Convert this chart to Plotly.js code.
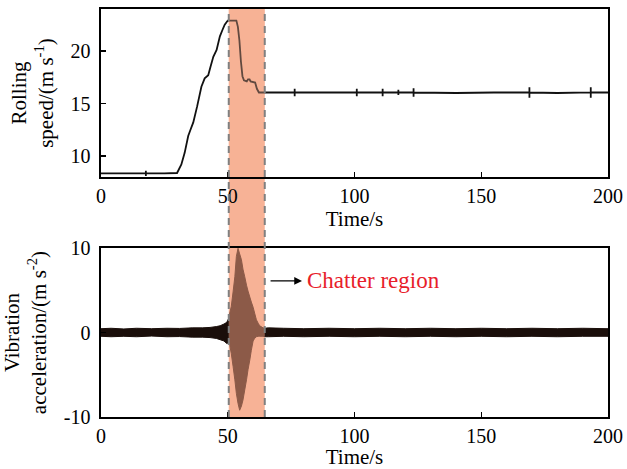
<!DOCTYPE html>
<html><head><meta charset="utf-8">
<script src="https://cdn.plot.ly/plotly-3.0.1.min.js"></script>
<style>html,body{margin:0;padding:0;background:#fff}</style>
</head><body><div id="chart" style="width:627px;height:469px"></div>
<script>
// Rolling speed (top panel); narrow spikes are drawn as base -> up -> down -> base at one time
const speedTime = [0, 10, 17.7, 17.7, 17.7, 17.7, 25, 30.0, 31.7, 33.0, 34.4, 35.3, 36.4, 37.9, 39.6, 40.9, 42.3, 43.2, 44.3, 45.6, 46.9, 47.9, 48.8, 50.0, 53.4, 54.0, 54.6, 55.2, 55.8, 56.4, 57.5, 58.0, 58.6, 59.0, 60.8, 61.5, 62.3, 70, 76.4, 76.4, 76.4, 76.4, 90, 100.9, 100.9, 100.9, 100.9, 111.1, 111.1, 111.1, 111.1, 117.3, 117.3, 117.3, 117.3, 123.3, 123.3, 123.3, 123.3, 140, 155, 169.0, 169.0, 169.0, 169.0, 180, 193.2, 193.2, 193.2, 193.2, 200];
const speedValue = [8.35, 8.35, 8.35, 8.6, 8.1, 8.35, 8.35, 8.38, 9.2, 10.3, 11.9, 12.5, 13.2, 14.7, 16.6, 17.4, 17.7, 18.5, 19.45, 20.1, 21.4, 22.0, 22.5, 22.9, 22.9, 22.3, 21.0, 19.0, 17.6, 17.2, 17.1, 17.3, 17.3, 17.1, 17.0, 16.4, 16.05, 16.05, 16.05, 16.4, 15.7, 16.05, 16.05, 16.05, 16.4, 15.7, 16.05, 16.05, 16.4, 15.7, 16.05, 16.05, 16.3, 15.8, 16.05, 16.05, 16.45, 15.65, 16.05, 16.0, 16.05, 16.05, 16.55, 15.55, 16.05, 16.0, 16.05, 16.55, 15.55, 16.05, 16.05];

// Vibration acceleration envelope (bottom panel)
const vibTime  = [0, 4, 9, 14, 20, 26, 31, 36, 40, 43, 45.5, 47, 48.5, 49.6, 50.4, 50.8, 51.4, 52.1, 52.8, 53.4, 54.06, 54.7, 55.4, 56.0, 56.7, 57.4, 58.0, 58.7, 59.3, 60.0, 60.6, 61.3, 62.0, 62.6, 63.9, 64.6, 66, 72, 80, 90, 100, 110, 120, 130, 140, 150, 160, 170, 180, 190, 200];
const vibUpper = [0.45, 0.5, 0.42, 0.5, 0.45, 0.5, 0.48, 0.55, 0.55, 0.6, 0.7, 0.8, 1.0, 1.2, 1.7, 2.3, 3.1, 4.8, 6.6, 9.0, 9.96, 9.3, 8.6, 7.5, 6.6, 5.6, 4.9, 4.2, 3.6, 3.0, 2.3, 1.5, 1.1, 0.8, 0.55, 0.5, 0.55, 0.5, 0.45, 0.5, 0.45, 0.5, 0.45, 0.5, 0.45, 0.5, 0.45, 0.5, 0.45, 0.5, 0.45];
const vibLower = [-0.45, -0.5, -0.45, -0.5, -0.42, -0.5, -0.48, -0.55, -0.55, -0.6, -0.7, -0.85, -1.0, -1.3, -1.2, -1.5, -2.5, -4.0, -5.6, -7.2, -8.4, -9.2, -8.7, -8.0, -6.8, -5.6, -4.4, -3.25, -2.1, -1.0, -0.7, -0.5, -0.45, -0.45, -0.45, -0.5, -0.5, -0.45, -0.5, -0.45, -0.5, -0.45, -0.5, -0.45, -0.5, -0.45, -0.5, -0.45, -0.5, -0.45, -0.45];

const chatterStart = 50.4, chatterEnd = 64.6;
const xTicks = [0, 50, 100, 150, 200];
const speedTicks = [10, 15, 20];
const vibTicks = [-10, 0, 10];
const vibTickText = ['-10', '0', '10'];

const FONT = 'Liberation Serif, Times New Roman, serif';
const BLACKISH = '#1a0e0a';
const BROWN = '#8c5a48';
const SALMON = '#f7b296';

// split the envelope into pieces: before, inside and after the chatter band
function envelopePiece(i0, i1) {
  const t = vibTime.slice(i0, i1 + 1), up = vibUpper.slice(i0, i1 + 1), lo = vibLower.slice(i0, i1 + 1);
  return {x: t.concat(t.slice().reverse()), y: up.concat(lo.slice().reverse())};
}
const iStart = vibTime.indexOf(chatterStart), iEnd = vibTime.indexOf(chatterEnd);
const pieces = [
  [envelopePiece(0, iStart), BLACKISH],
  [envelopePiece(iStart, iEnd), BROWN],
  [envelopePiece(iEnd, vibTime.length - 1), BLACKISH]
];

const traces = [
  {x: speedTime, y: speedValue, type: 'scatter', mode: 'lines', xaxis: 'x', yaxis: 'y',
   line: {color: '#111', width: 1.8, simplify: false}, hoverinfo: 'skip'}
].concat(pieces.map(p => ({
  x: p[0].x, y: p[0].y, type: 'scatter', mode: 'lines', xaxis: 'x2', yaxis: 'y2', fill: 'toself',
  fillcolor: p[1], line: {color: p[1], width: 1, simplify: false}, hoverinfo: 'skip'
})));

const axisCommon = {
  showline: true, mirror: true, linecolor: '#000', linewidth: 1.6,
  ticks: 'inside', ticklen: 5, tickwidth: 1.5, tickcolor: '#000',
  showgrid: false, zeroline: false,
  tickfont: {family: FONT, size: 20, color: '#000'}
};

const layout = {
  width: 627, height: 469,
  margin: {l: 101, r: 19, t: 9, b: 52},
  paper_bgcolor: '#fff', plot_bgcolor: 'rgba(0,0,0,0)',
  showlegend: false,
  xaxis: Object.assign({}, axisCommon, {anchor: 'y', range: [0, 200], tickvals: xTicks,
    title: {text: 'Time/s', font: {family: FONT, size: 21, color: '#000'}, standoff: 0}}),
  yaxis: Object.assign({}, axisCommon, {anchor: 'x', domain: [0.5882, 1], range: [8, 24], tickvals: speedTicks,
    ticklabelstandoff: 5,
    title: {text: 'Rolling<br>speed/(m s<sup>-1</sup>)', font: {family: FONT, size: 21, color: '#000'}, standoff: 11}}),
  xaxis2: Object.assign({}, axisCommon, {anchor: 'y2', range: [0, 200], tickvals: xTicks,
    title: {text: 'Time/s', font: {family: FONT, size: 21, color: '#000'}, standoff: 0}}),
  yaxis2: Object.assign({}, axisCommon, {anchor: 'x2', domain: [0, 0.4142], range: [-10, 10],
    tickvals: vibTicks, ticktext: vibTickText, ticklabelstandoff: 5,
    title: {text: 'Vibration<br>acceleration/(m s<sup>-2</sup>)', font: {family: FONT, size: 21, color: '#000'}, standoff: 11}}),
  shapes: [
    {type: 'rect', xref: 'x', yref: 'paper', x0: chatterStart, x1: chatterEnd, y0: 0, y1: 1,
     fillcolor: SALMON, line: {width: 0}, layer: 'below'},
    {type: 'rect', xref: 'x', yref: 'paper', x0: chatterStart, x1: chatterEnd, y0: 0.5882, y1: 1,
     fillcolor: SALMON, opacity: 0.35, line: {width: 0}, layer: 'above'},
    {type: 'line', xref: 'x', yref: 'paper', x0: chatterStart, x1: chatterStart, y0: 0, y1: 1,
     line: {color: '#808080', width: 2, dash: '7px,5px'}, layer: 'above'},
    {type: 'line', xref: 'x', yref: 'paper', x0: chatterEnd, x1: chatterEnd, y0: 0, y1: 1,
     line: {color: '#808080', width: 2, dash: '7px,5px'}, layer: 'above'}
  ],
  annotations: [
    {xref: 'x2', yref: 'y2', x: 80.5, y: 6.1, text: 'Chatter region', showarrow: false,
     xanchor: 'left', yanchor: 'middle', font: {family: FONT, size: 23, color: '#e8202a'}},
    {xref: 'x2', yref: 'y2', axref: 'x2', ayref: 'y2', x: 79.3, y: 6.1, ax: 66.3, ay: 6.1, text: '',
     showarrow: true, arrowhead: 2, arrowsize: 1.2, arrowwidth: 1.3, arrowcolor: '#000'}
  ]
};

Plotly.newPlot('chart', traces, layout, {displayModeBar: false, staticPlot: true});
</script>
</body></html>
